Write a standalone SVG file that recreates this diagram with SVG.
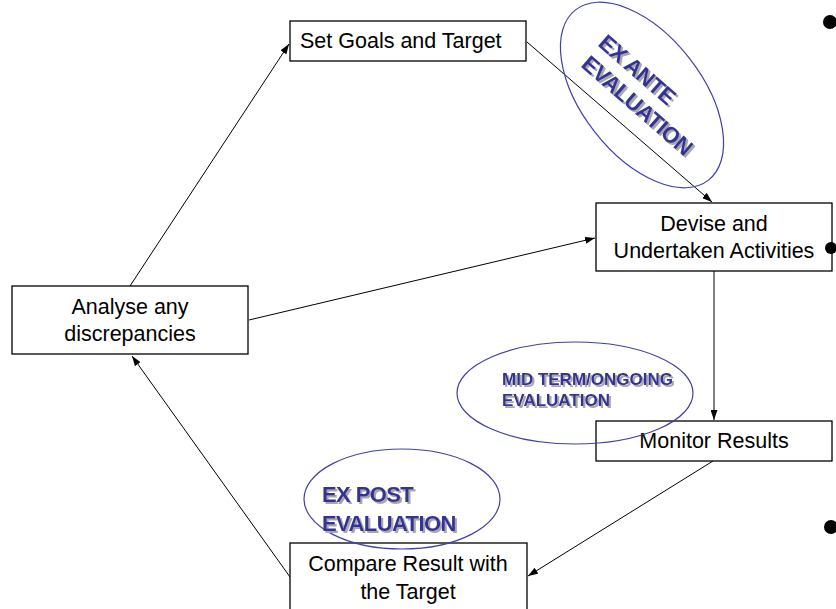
<svg xmlns="http://www.w3.org/2000/svg" width="836" height="609" viewBox="0 0 836 609">
<defs>
<style>
.box{fill:#fff;stroke:#000;stroke-width:1.3}
.lbl{font-family:"Liberation Sans",Arial,sans-serif;font-size:21.5px;fill:#000}
.c{text-anchor:middle}
.conn{stroke:#000;stroke-width:1;fill:none;marker-end:url(#ah)}
.ell{fill:none;stroke:#4040a8;stroke-width:1.2}
.ev{font-family:"Liberation Sans",Arial,sans-serif;font-weight:bold;fill:#333399}
.dot{fill:#000}
</style>
<filter id="shd" x="-10%" y="-10%" width="130%" height="130%">
<feDropShadow dx="2" dy="2" stdDeviation="0.3" flood-color="#a8a8a8" flood-opacity="1"/>
</filter>
<marker id="ah" viewBox="0 0 10 7" refX="10" refY="3.5" markerWidth="10" markerHeight="7" markerUnits="userSpaceOnUse" orient="auto">
<path d="M0,0 L10,3.5 L0,7 z" fill="#000"/>
</marker>
</defs>
<rect width="836" height="609" fill="#fff"/>

<g id="connectors">
<path class="conn" d="M130,286 L289,44"/>
<path class="conn" d="M527,42 L712,202"/>
<path class="conn" d="M249,320 L595,238"/>
<path class="conn" d="M714,271 L714,420"/>
<path class="conn" d="M713,461 L528,576"/>
<path class="conn" d="M290,577 L132,356"/>
</g>

<g id="set-goals">
<rect class="box" x="290" y="21" width="236" height="40"/>
<text class="lbl" x="300" y="48">Set Goals and Target</text>
</g>

<g id="devise">
<rect class="box" x="596" y="203" width="236" height="68"/>
<text class="lbl c" x="714" y="231">Devise and</text>
<text class="lbl c" x="714" y="258">Undertaken Activities</text>
</g>

<g id="analyse">
<rect class="box" x="12" y="286" width="236" height="68"/>
<text class="lbl c" x="130" y="314">Analyse any</text>
<text class="lbl c" x="130" y="341">discrepancies</text>
</g>

<g id="monitor">
<rect class="box" x="596" y="421" width="236" height="40"/>
<text class="lbl c" x="714" y="448">Monitor Results</text>
</g>

<g id="compare">
<rect class="box" x="290" y="543" width="237" height="70"/>
<text class="lbl c" x="408" y="571">Compare Result with</text>
<text class="lbl c" x="408" y="599">the Target</text>
</g>

<g id="ex-ante">
<ellipse class="ell" cx="642" cy="95" rx="108" ry="60" transform="rotate(52 642 95)"/>
<g filter="url(#shd)">
<text class="ev" font-size="22.5" letter-spacing="-0.5" transform="translate(597,45) rotate(41)">EX ANTE</text>
<text class="ev" font-size="22.5" letter-spacing="-0.5" transform="translate(580,66) rotate(41)">EVALUATION</text>
</g>
</g>

<g id="mid-term">
<ellipse class="ell" cx="575" cy="393" rx="118" ry="51"/>
<g filter="url(#shd)">
<text class="ev" font-size="17" x="502" y="385">MID TERM/ONGOING</text>
<text class="ev" font-size="17" x="502" y="406">EVALUATION</text>
</g>
</g>

<g id="ex-post">
<ellipse class="ell" cx="402" cy="499" rx="98" ry="50"/>
<g filter="url(#shd)">
<text class="ev" font-size="22" letter-spacing="-0.6" x="322" y="502">EX POST</text>
<text class="ev" font-size="22" letter-spacing="-0.6" x="322" y="531">EVALUATION</text>
</g>
</g>

<g id="bullets">
<circle class="dot" cx="830" cy="22" r="7"/>
<circle class="dot" cx="831" cy="248" r="6"/>
<circle class="dot" cx="831" cy="527" r="7"/>
</g>
</svg>
